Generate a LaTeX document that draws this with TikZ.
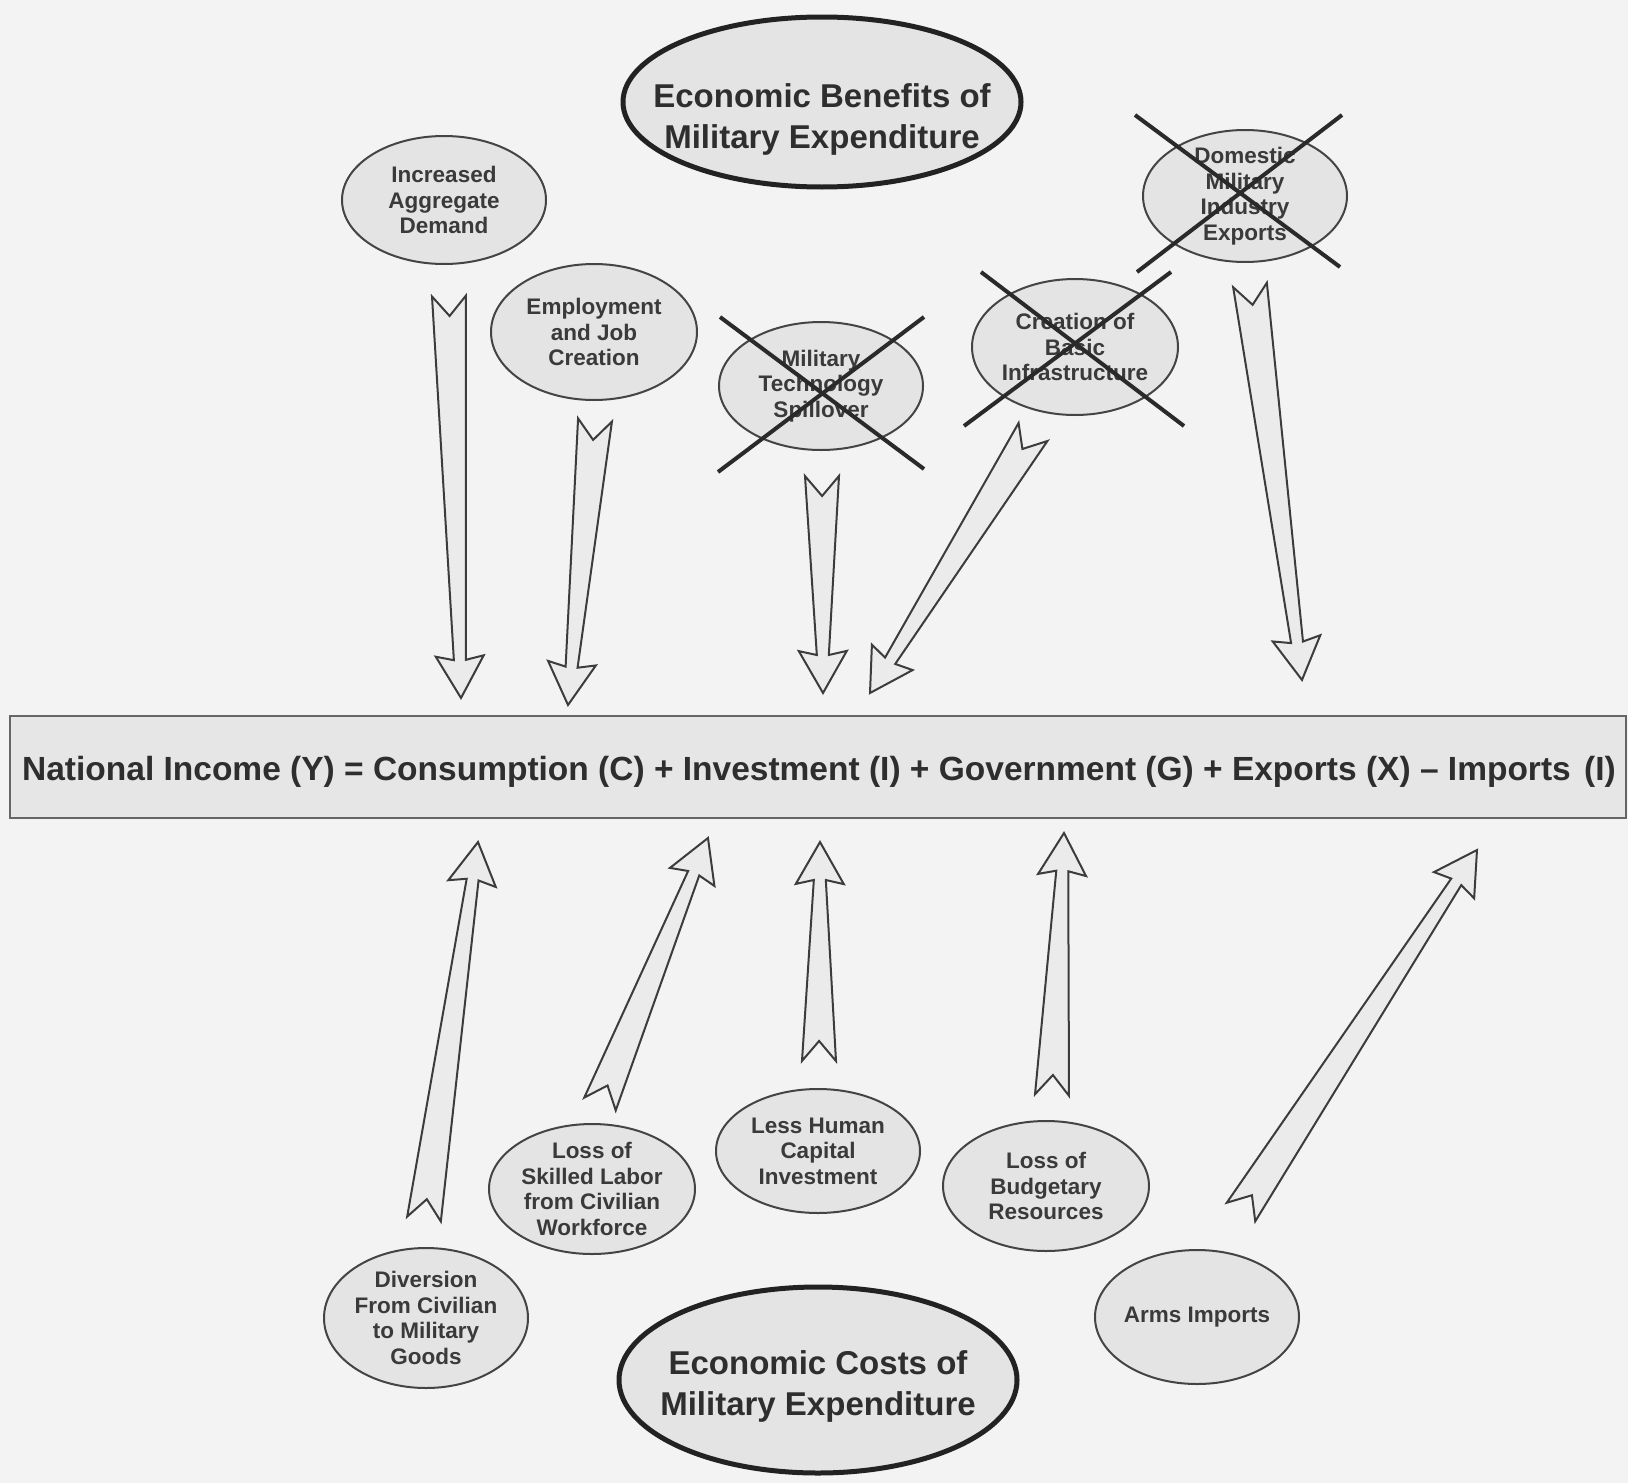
\documentclass[tikz,border=0pt]{standalone}
\usepackage{fontspec}
\setmainfont{Liberation Sans}
\usetikzlibrary{shapes.geometric,calc}
\definecolor{bgc}{HTML}{F3F3F3}
\definecolor{ellfill}{HTML}{E4E4E4}
\definecolor{elldraw}{HTML}{444444}
\definecolor{bigdraw}{HTML}{222222}
\definecolor{txt}{HTML}{3A3A3A}
\definecolor{bigtxt}{HTML}{2E2E2E}
\definecolor{arrfill}{HTML}{EBEBEB}
\definecolor{arrdraw}{HTML}{3C3C3C}
\definecolor{barfill}{HTML}{E6E6E6}
\definecolor{bardraw}{HTML}{666666}
\definecolor{crossc}{HTML}{2A2A2A}
\newcommand\fatarrow[2]{%
  \path let \p1=(#1), \p2=(#2) in
    \pgfextra{\pgfmathsetmacro\fatang{atan2(\y2-\y1,\x2-\x1)}%
              \pgfmathsetmacro\fatlen{veclen(\x2-\x1,\y2-\y1)}%
              \xdef\fatang{\fatang}\xdef\fatlen{\fatlen}};
  \begin{scope}[shift={(#1)},rotate=\fatang]
    \draw[bigarrow] (0pt,17pt) -- (20pt,0pt) -- (0pt,-17pt)
      -- ({\fatlen pt-38pt},-6pt) -- ({\fatlen pt-42pt},-24pt)
      -- ({\fatlen pt},0pt) -- ({\fatlen pt-42pt},24pt)
      -- ({\fatlen pt-38pt},6pt) -- cycle;
  \end{scope}}
\begin{document}
\begin{tikzpicture}[x=1pt,y=-1pt,
  ell/.style={ellipse, draw=elldraw, fill=ellfill, line width=2pt, inner sep=0pt},
  bigell/.style={ellipse, draw=bigdraw, fill=ellfill, line width=5pt, inner sep=0pt},
  elltext/.style={align=center, text=txt, inner sep=0pt, font=\fontsize{22.5}{25.5}\selectfont\bfseries},
  bigtext/.style={align=center, text=bigtxt, inner sep=0pt, font=\fontsize{33}{41}\selectfont\bfseries},
  crossline/.style={draw=crossc, line width=4pt},
  bigarrow/.style={draw=arrdraw, fill=arrfill, line width=2pt, line join=miter},
  barbox/.style={draw=bardraw, fill=barfill, line width=2.5pt, minimum width=1616pt, minimum height=102pt, inner sep=0pt},
  bartext/.style={inner sep=0pt, text=bigtxt, font=\fontsize{33.5}{40}\selectfont\bfseries}]
\useasboundingbox (0,0) rectangle (1628,1483);
\fill[bgc] (0,0) rectangle (1628,1483);

% bar
\node[barbox] (bar) at (818,767) {};
\node[bartext] (bartxt) at (819,772) {National Income (Y) = Consumption (C) + Investment (I) + Government (G) + Exports (X) -- Imports\hspace{0.4em}(I)};

% benefits side
\node[bigell, minimum width=398pt, minimum height=170pt] (benefits) at (822,102) {};
\node[bigtext] (benefitstxt) at (822,119) {Economic Benefits of\\Military Expenditure};

\node[ell, minimum width=204pt, minimum height=128pt] (demand) at (444,200) {};
\node[elltext] (demandtxt) at (demand) {Increased\\Aggregate\\Demand};

\node[ell, minimum width=206pt, minimum height=136pt] (employ) at (594,332) {};
\node[elltext] (employtxt) at (employ) {Employment\\and Job\\Creation};

\node[ell, minimum width=204pt, minimum height=128pt] (tech) at (821,386) {};
\node[elltext] (techtxt) at (tech) {Military\\Technology\\Spillover};

\node[ell, minimum width=206pt, minimum height=136pt] (infra) at (1075,347) {};
\node[elltext] (infratxt) at (infra) {Creation of\\Basic\\Infrastructure};

\node[ell, minimum width=204pt, minimum height=132pt] (domestic) at (1245,196) {};
\node[elltext] (domestictxt) at (domestic) {Domestic\\Military\\Industry\\Exports};

% crosses
\draw[crossline] ($(tech)+(-101,-69)$) -- ($(tech)+(103,83)$);
\draw[crossline] ($(tech)+(-103,86)$) -- ($(tech)+(103,-69)$);
\draw[crossline] ($(infra)+(-94,-75)$) -- ($(infra)+(109,79)$);
\draw[crossline] ($(infra)+(-111,79)$) -- ($(infra)+(96,-75)$);
\draw[crossline] ($(domestic)+(-110,-81)$) -- ($(domestic)+(95,71)$);
\draw[crossline] ($(domestic)+(-108,76)$) -- ($(domestic)+(97,-81)$);

% costs side
\node[ell, minimum width=204pt, minimum height=140pt] (diversion) at (426,1318) {};
\node[elltext] (diversiontxt) at (diversion) {Diversion\\From Civilian\\to Military\\Goods};

\node[ell, minimum width=206pt, minimum height=130pt] (skilled) at (592,1189) {};
\node[elltext] (skilledtxt) at (skilled) {Loss of\\Skilled Labor\\from Civilian\\Workforce};

\node[ell, minimum width=204pt, minimum height=124pt] (human) at (818,1151) {};
\node[elltext] (humantxt) at (human) {Less Human\\Capital\\Investment};

\node[ell, minimum width=206pt, minimum height=130pt] (budget) at (1046,1186) {};
\node[elltext] (budgettxt) at (budget) {Loss of\\Budgetary\\Resources};

\node[ell, minimum width=204pt, minimum height=134pt] (arms) at (1197,1317) {};
\node[elltext] (armstxt) at (arms) {Arms Imports};

\node[bigell, minimum width=398pt, minimum height=186pt] (costs) at (818,1380) {};
\node[bigtext] (coststxt) at (818,1386) {Economic Costs of\\Military Expenditure};

% arrow end points
\coordinate (a1s) at (449,296);  \coordinate (a1e) at (461,698);
\coordinate (a2s) at (595,420);  \coordinate (a2e) at (568,705);
\coordinate (a3s) at (822,476);  \coordinate (a3e) at (823,693);
\coordinate (a4s) at (1033,432); \coordinate (a4e) at (870,693);
\coordinate (a5s) at (1250,285); \coordinate (a5e) at (1302,680);
\coordinate (b1s) at (424,1219); \coordinate (b1e) at (478,842);
\coordinate (b2s) at (600,1104); \coordinate (b2e) at (708,838);
\coordinate (b3s) at (819,1061); \coordinate (b3e) at (820,842);
\coordinate (b4s) at (1052,1095);\coordinate (b4e) at (1064,833);
\coordinate (b5s) at (1241,1212);\coordinate (b5e) at (1477,850);

\fatarrow{a1s}{a1e}
\fatarrow{a2s}{a2e}
\fatarrow{a3s}{a3e}
\fatarrow{a4s}{a4e}
\fatarrow{a5s}{a5e}
\fatarrow{b1s}{b1e}
\fatarrow{b2s}{b2e}
\fatarrow{b3s}{b3e}
\fatarrow{b4s}{b4e}
\fatarrow{b5s}{b5e}
\end{tikzpicture}
\end{document}
